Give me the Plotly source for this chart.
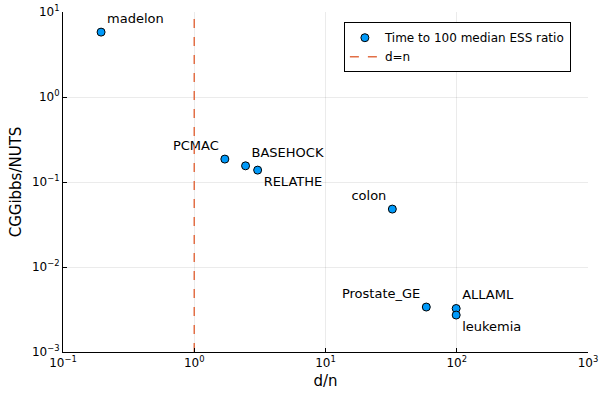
import plotly.graph_objects as go

names = ["madelon", "PCMAC", "BASEHOCK", "RELATHE", "colon", "Prostate_GE", "ALLAML", "leukemia"]
d_over_n = [0.195, 1.71, 2.46, 3.04, 32.3, 58.6, 99.0, 99.0]
ratio = [5.8, 0.186, 0.155, 0.138, 0.048, 0.00338, 0.00325, 0.00272]
label_pos = ["top right", "top left", "top right", "bottom right", "top left", "top left", "top right", "bottom right"]

x_tickvals = [0.1, 1, 10, 100, 1000]
x_ticktext = ["10<sup>−1</sup>", "10<sup>0</sup>", "10<sup>1</sup>", "10<sup>2</sup>", "10<sup>3</sup>"]
y_tickvals = [0.001, 0.01, 0.1, 1, 10]
y_ticktext = ["10<sup>−3</sup>", "10<sup>−2</sup>", "10<sup>−1</sup>", "10<sup>0</sup>", "10<sup>1</sup>"]

vline_x = [1, 1]
vline_y = [0.001, 10]

font = "DejaVu Sans"

fig = go.Figure()
fig.add_trace(go.Scatter(
    x=d_over_n, y=ratio, mode="markers+text", text=names, textposition=label_pos,
    textfont=dict(family=font, size=13, color="black"),
    marker=dict(size=8, color="#009AFA", line=dict(color="black", width=1)),
    name="Time to 100 median ESS ratio", cliponaxis=False,
))
fig.add_trace(go.Scatter(
    x=vline_x, y=vline_y, mode="lines", name="d=n",
    line=dict(color="#E26F46", dash="dash", width=1.5),
))

axis_common = dict(
    type="log", showline=True, linecolor="black", linewidth=1, mirror=False,
    ticks="inside", ticklen=4, tickcolor="black", automargin=False,
    showgrid=True, gridcolor="rgba(0,0,0,0.08)", gridwidth=1,
    zeroline=False, tickfont=dict(family=font, size=12, color="black"),
)
fig.update_xaxes(range=[-1, 3], tickvals=x_tickvals, ticktext=x_ticktext,
                 title=dict(text="d/n", font=dict(family=font, size=15, color="black"), standoff=6),
                 **axis_common)
fig.update_yaxes(range=[-3, 1], tickvals=y_tickvals, ticktext=y_ticktext,
                 title=dict(text="CGGibbs/NUTS", font=dict(family=font, size=15, color="black"), standoff=6),
                 **axis_common)

fig.update_layout(
    width=600, height=400,
    margin=dict(l=63, r=12, t=12, b=48),
    plot_bgcolor="white", paper_bgcolor="white",
    font=dict(family=font, color="black"),
    legend=dict(x=0.535, y=0.97, xanchor="left", yanchor="top",
                bordercolor="black", borderwidth=1, bgcolor="white",
                font=dict(family=font, size=12), tracegroupgap=0, itemwidth=30),
    showlegend=True,
)

fig.write_html("out.html", config={"displayModeBar": False},
               post_script="document.body.style.margin='0';document.body.style.overflow='hidden';")
